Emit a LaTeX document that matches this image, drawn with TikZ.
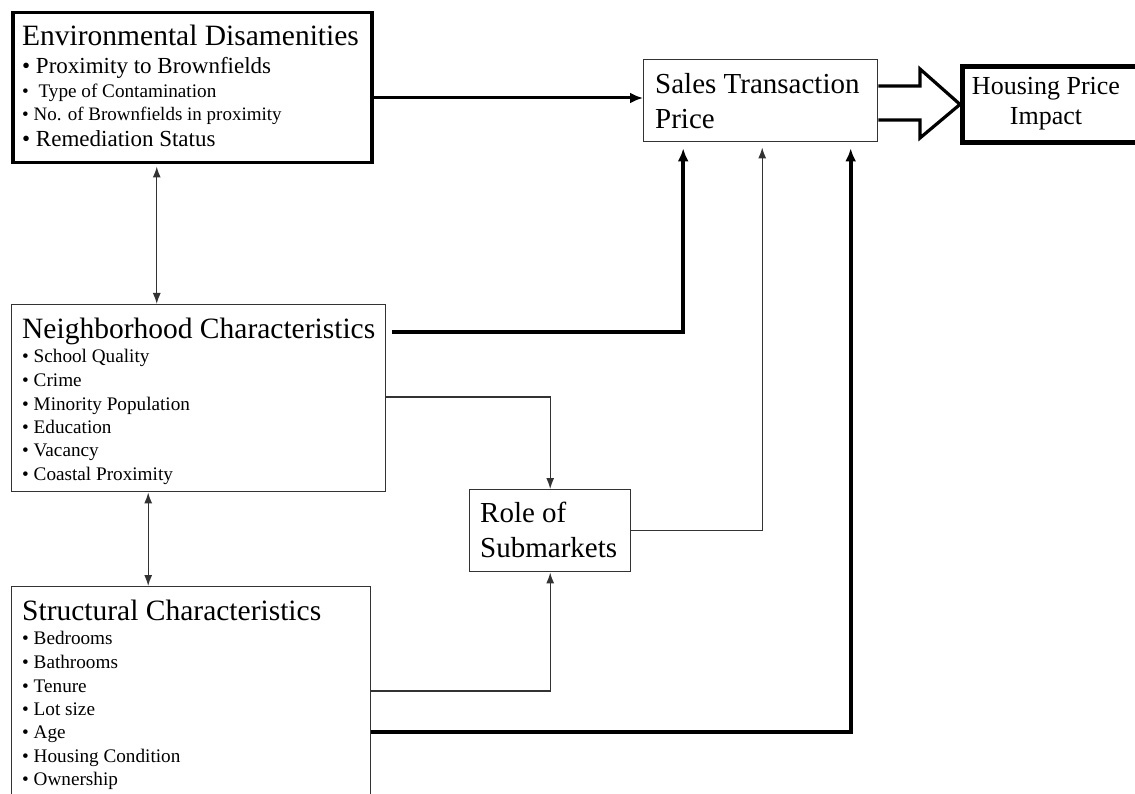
\documentclass[tikz,border=0pt]{standalone}
\usepackage{fontspec}
\setmainfont{Liberation Serif}
\usetikzlibrary{arrows.meta,calc}

\begin{document}
\begin{tikzpicture}[
  x=1pt,
  y=-1pt,
  box/.style={draw=black!80, line width=1.4pt, inner sep=0pt, anchor=north west},
  boldbox/.style={box, draw=black, line width=3.5pt},
  title/.style={font=\fontsize{29.5}{34}\selectfont, anchor=base west, inner sep=0pt},
  item/.style={font=\fontsize{19.2}{22}\selectfont, anchor=base west, inner sep=0pt},
  link/.style={draw=black!80, line width=1.3pt, -{Latex[length=11pt,width=8pt]}},
  twoway/.style={link, {Latex[length=11pt,width=8pt]}-{Latex[length=11pt,width=8pt]}},
  boldlink/.style={draw=black, line width=3.6pt, -{Latex[length=13pt,width=11pt]}}
]
\useasboundingbox (0,0) rectangle (1135,794);

% Boxes, placed by their top left corners.
\node[boldbox, minimum width=359, minimum height=150] (env) at (11,11) {};
\node[box, minimum width=234, minimum height=82] (sales) at (643,59) {};
\node[boldbox, line width=4.8pt, minimum width=220, minimum height=76] (housing) at (960,64) {};
\node[box, minimum width=374, minimum height=187] (neigh) at (11,304) {};
\node[box, minimum width=161, minimum height=82] (role) at (469,489) {};
\node[box, minimum width=359, minimum height=240] (struct) at (11,586) {};

% Environmental disamenities.
\node[title] (envt) at (22,46) {Environmental Disamenities};
\node[item, font=\fontsize{23}{26}\selectfont] (env1) at (22,74) {\textbullet\ Proximity to Brownfields};
\node[item] (env2) at (22,98) {\textbullet\ \ Type of Contamination};
\node[item, font=\fontsize{19}{22}\selectfont] (env3) at (22,121) {\textbullet\ No. of Brownfields in proximity};
\node[item, font=\fontsize{23}{26}\selectfont] (env4) at (22,147) {\textbullet\ Remediation Status};

% Neighborhood characteristics.
\node[title] (neight) at (22,338) {Neighborhood Characteristics};
\foreach \yy/\lab [count=\i] in {362/School Quality,386/Crime,410/Minority Population,433/Education,456/Vacancy,480/Coastal Proximity} {
  \node[item] (neigh\i) at (22,\yy) {\textbullet\ \lab};
}

% Structural characteristics.
\node[title] (structt) at (22,620) {Structural Characteristics};
\foreach \yy/\lab [count=\i] in {644/Bedrooms,668/Bathrooms,692/Tenure,715/Lot size,738/Age,762/Housing Condition,785/Ownership} {
  \node[item] (struct\i) at (22,\yy) {\textbullet\ \lab};
}

% Price and submarket labels.
\node[title, font=\fontsize{29}{34}\selectfont] (sales1) at (655,94) {Sales Transaction};
\node[title, font=\fontsize{29}{34}\selectfont] (sales2) at (655,129) {Price};
\node[title, font=\fontsize{26}{30}\selectfont, anchor=base] (housing1) at (1046,95) {Housing Price};
\node[title, font=\fontsize{26}{30}\selectfont, anchor=base] (housing2) at (1046,125) {Impact};
\node[title, font=\fontsize{29}{34}\selectfont] (role1) at (480,522) {Role of};
\node[title, font=\fontsize{29}{34}\selectfont] (role2) at (480,557) {Submarkets};

% Outline arrow from price to impact.
\draw[line width=3.2pt, line join=miter]
  (sales.east |- 0,86) -- (920,86) -- (920,69) -- (housing.west)
  -- (920,138) -- (920,120) -- (sales.east |- 0,120);

% Connectors.
\draw[boldlink, line width=3pt] (env.east |- 0,98) -- (sales.west |- 0,98);
\draw[twoway, shorten <=2pt] ([xshift=-35.5]env.south) -- ([xshift=-35.5]env.south |- neigh.north);
\draw[twoway] ([xshift=-50.5]neigh.south) -- ([xshift=-50.5]neigh.south |- struct.north);
\draw[boldlink, shorten <=6pt, shorten >=6pt] (neigh.east |- 0,332) -| ([xshift=-77.5]sales.south);
\draw[link] (neigh.east |- 0,397) -| (role.north);
\draw[link, shorten >=5pt] (role.east) -| ([xshift=1.5]sales.south);
\draw[link] (struct.east |- 0,691) -| (role.south);
\draw[boldlink, shorten >=6pt] (struct.east |- 0,732) -| ([xshift=90]sales.south);
\end{tikzpicture}
\end{document}
